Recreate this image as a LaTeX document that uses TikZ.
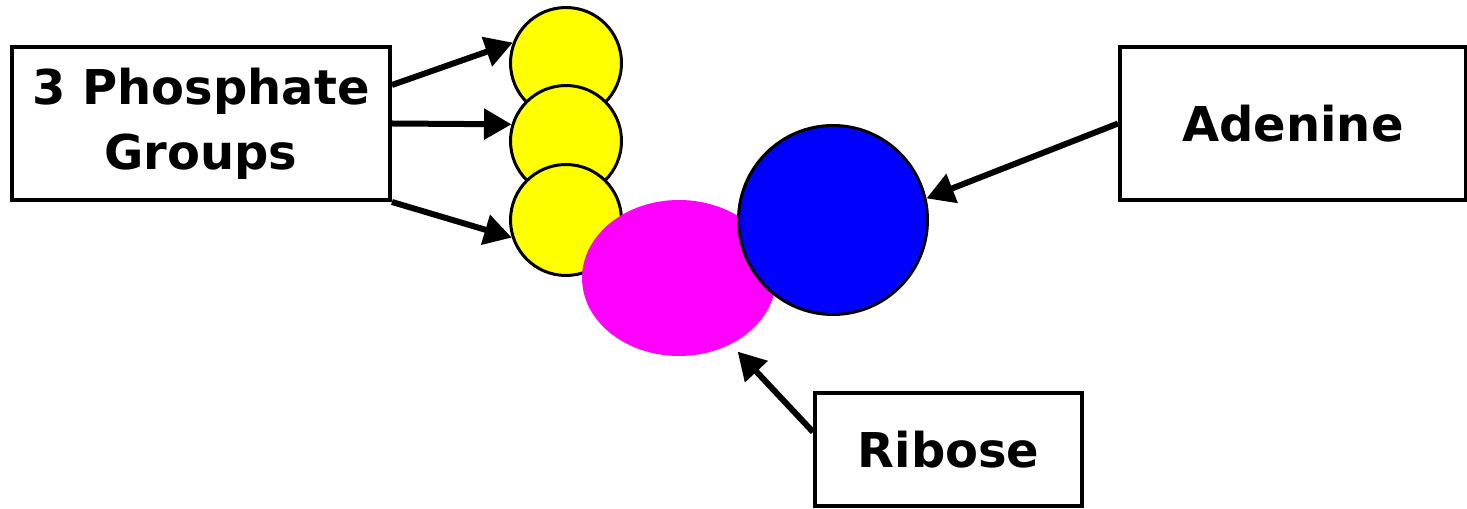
\documentclass[tikz,border=0pt]{standalone}
\usepackage{fontspec}
\setmainfont{DejaVu Sans}
\usetikzlibrary{arrows.meta,shapes.geometric}

\definecolor{phosyellow}{RGB}{255,255,0}
\definecolor{sugarpink}{RGB}{255,0,255}
\definecolor{baseblue}{RGB}{0,0,255}

\tikzset{
  namebox/.style={draw, line width=0.08cm, align=center, font=\bfseries\fontsize{27.3}{37}\selectfont},
  phosphate/.style={draw, circle, fill=phosyellow, line width=0.06cm, minimum size=2.22cm},
  pointer/.style={->, >={Triangle[length=0.55cm,width=0.6cm]}, line width=0.12cm}
}

\begin{document}
\begin{tikzpicture}[x=0.02cm, y=-0.02cm]
\useasboundingbox (0,0) rectangle (1467,509);


% the three phosphate groups
\node[phosphate] (phosphate_1) at (566,63) {};
\node[phosphate] (phosphate_2) at (566,141) {};
\node[phosphate] (phosphate_3) at (566,220) {};

% ribose sugar
\node[ellipse, fill=sugarpink, minimum width=3.88cm, minimum height=3.12cm, inner sep=0pt] (sugar) at (679,278) {};

% adenine base
\node[draw, circle, fill=baseblue, line width=0.06cm, minimum size=3.78cm] (base) at (833,220) {};


% plot the labels
\node[namebox, minimum width=7.56cm, minimum height=3.06cm] (phosphate_label) at (201,123.5) {3 Phosphate\\Groups};
\node[namebox, minimum width=6.92cm, minimum height=3.06cm] (adenine_label) at (1293,123.5) {Adenine};
\node[namebox, minimum width=5.34cm, minimum height=2.26cm] (ribose_label) at (948.5,449.5) {Ribose};


%plot the pointers
\draw[pointer] ([yshift=0.77cm]phosphate_label.east) -- (phosphate_1.159);
\draw[pointer] (phosphate_label.east) -- (phosphate_2.163);
\draw[pointer] (phosphate_label.south east) -- (phosphate_3.198);
\draw[pointer] (adenine_label.west) -- (base.13);
\draw[pointer, shorten >=0.2cm] ([yshift=0.35cm]ribose_label.west) -- (sugar.-52);

\end{tikzpicture}
\end{document}
